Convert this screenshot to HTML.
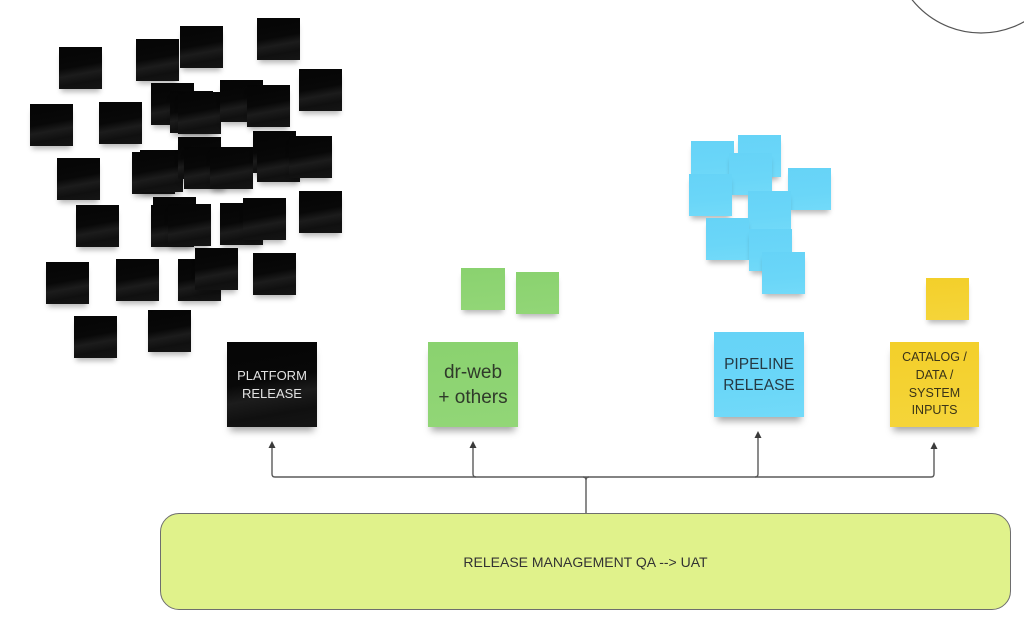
<!DOCTYPE html>
<html>
<head>
<meta charset="utf-8">
<style>
  html,body{margin:0;padding:0;}
  body{width:1024px;height:630px;position:relative;overflow:hidden;background:#ffffff;font-family:"Liberation Sans",sans-serif;}
  .s{position:absolute;width:43px;height:42px;box-shadow:0 5px 5px -2px rgba(0,0,0,0.28);}
  .k{background:linear-gradient(170deg,#050505 0%,#080808 45%,#1c1c1c 62%,#101010 80%,#151515 100%);}
  .b{background:linear-gradient(175deg,#66d3f7 0%,#6ad6f8 60%,#72daf9 100%);}
  .g{background:linear-gradient(175deg,#8ad26f 0%,#92d677 100%);}
  .y{background:linear-gradient(175deg,#f3cf2a 0%,#f5d53a 100%);}
  .big{position:absolute;width:90px;height:85px;display:flex;align-items:center;justify-content:center;text-align:center;box-shadow:0 7px 7px -3px rgba(0,0,0,0.35);}
  .box{position:absolute;left:160px;top:513px;width:851px;height:97px;background:#e0f28b;border:1.3px solid #6e6e6e;border-radius:19px;box-sizing:border-box;display:flex;align-items:center;justify-content:center;font-size:14px;color:#333;}
</style>
</head>
<body>
<svg width="1024" height="630" style="position:absolute;left:0;top:0">
  <circle cx="981" cy="-55" r="88" fill="none" stroke="#555" stroke-width="1.2"/>
</svg>

<!-- black stickies -->
<div class="s k" style="left:59px;top:47px"></div>
<div class="s k" style="left:136px;top:39px"></div>
<div class="s k" style="left:180px;top:26px"></div>
<div class="s k" style="left:257px;top:18px"></div>
<div class="s k" style="left:299px;top:69px"></div>
<div class="s k" style="left:30px;top:104px"></div>
<div class="s k" style="left:99px;top:102px"></div>
<div class="s k" style="left:151px;top:83px"></div>
<div class="s k" style="left:170px;top:91px"></div>
<div class="s k" style="left:178px;top:92px"></div>
<div class="s k" style="left:220px;top:80px"></div>
<div class="s k" style="left:247px;top:85px"></div>
<div class="s k" style="left:57px;top:158px"></div>
<div class="s k" style="left:132px;top:152px"></div>
<div class="s k" style="left:140px;top:150px"></div>
<div class="s k" style="left:178px;top:137px"></div>
<div class="s k" style="left:184px;top:147px"></div>
<div class="s k" style="left:210px;top:147px"></div>
<div class="s k" style="left:253px;top:131px"></div>
<div class="s k" style="left:257px;top:140px"></div>
<div class="s k" style="left:289px;top:136px"></div>
<div class="s k" style="left:76px;top:205px"></div>
<div class="s k" style="left:153px;top:197px"></div>
<div class="s k" style="left:151px;top:205px"></div>
<div class="s k" style="left:168px;top:204px"></div>
<div class="s k" style="left:220px;top:203px"></div>
<div class="s k" style="left:243px;top:198px"></div>
<div class="s k" style="left:299px;top:191px"></div>
<div class="s k" style="left:46px;top:262px"></div>
<div class="s k" style="left:116px;top:259px"></div>
<div class="s k" style="left:178px;top:259px"></div>
<div class="s k" style="left:195px;top:248px"></div>
<div class="s k" style="left:253px;top:253px"></div>
<div class="s k" style="left:74px;top:316px"></div>
<div class="s k" style="left:148px;top:310px"></div>

<!-- green small -->
<div class="s g" style="left:461px;top:268px;width:44px"></div>
<div class="s g" style="left:516px;top:272px"></div>

<!-- blue stickies -->
<div class="s b" style="left:691px;top:141px"></div>
<div class="s b" style="left:738px;top:135px"></div>
<div class="s b" style="left:729px;top:153px"></div>
<div class="s b" style="left:689px;top:174px"></div>
<div class="s b" style="left:788px;top:168px"></div>
<div class="s b" style="left:748px;top:191px"></div>
<div class="s b" style="left:706px;top:218px"></div>
<div class="s b" style="left:749px;top:229px"></div>
<div class="s b" style="left:762px;top:252px"></div>

<!-- yellow small -->
<div class="s y" style="left:926px;top:278px"></div>

<!-- labeled stickies -->
<div class="big k" style="left:227px;top:342px;color:#e2e2e2;font-size:13px;line-height:18px;">PLATFORM<br>RELEASE</div>
<div class="big g" style="left:428px;top:342px;color:#2f3a2a;font-size:19px;line-height:25px;">dr-web<br>+ others</div>
<div class="big b" style="left:714px;top:332px;color:#263a44;font-size:15.5px;line-height:21px;">PIPELINE<br>RELEASE</div>
<div class="big y" style="left:890px;top:342px;width:89px;color:#3a3418;font-size:12.5px;line-height:17.6px;">CATALOG /<br>DATA /<br>SYSTEM<br>INPUTS</div>

<!-- connectors -->
<svg width="1024" height="630" style="position:absolute;left:0;top:0">
  <g fill="none" stroke="#5a5a5a" stroke-width="1.4">
    <path d="M586 513 V480 Q586 477 589 477"/>
    <path d="M586 480 Q586 477 583 477"/>
    <path d="M272 446 V474 Q272 477 275 477 H931 Q934 477 934 474 V447"/>
    <path d="M473 446 V474 Q473 477 476 477"/>
    <path d="M758 436 V474 Q758 477 755 477"/>
  </g>
  <g fill="#3a3a3a">
    <polygon points="272,441 268.5,448 275.5,448"/>
    <polygon points="473,441 469.5,448 476.5,448"/>
    <polygon points="758,431 754.5,438 761.5,438"/>
    <polygon points="934,442 930.5,449 937.5,449"/>
  </g>
</svg>

<div class="box">RELEASE MANAGEMENT QA --&gt; UAT</div>
</body>
</html>
